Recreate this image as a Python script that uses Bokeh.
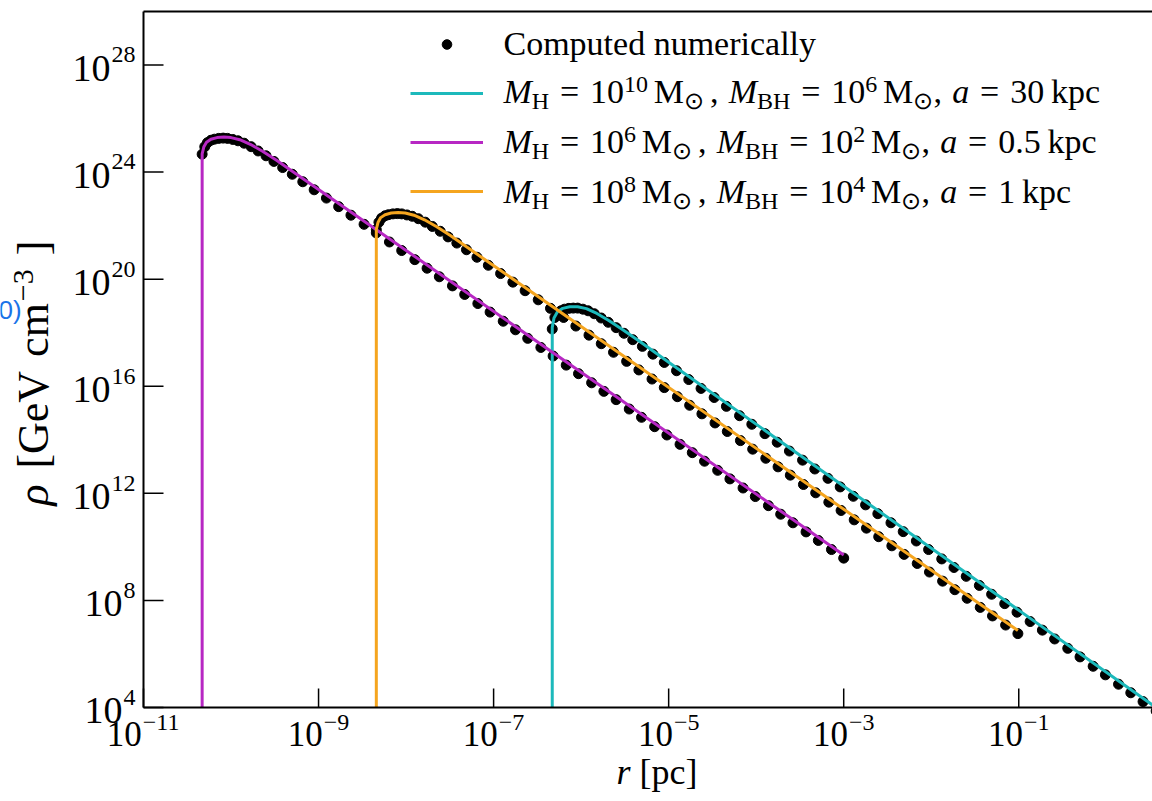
import math
from bokeh.plotting import figure
from bokeh.models import Label, Legend, LegendItem, Range1d
from bokeh.embed import file_html
from bokeh.resources import INLINE

# ---------------- data: log10(r / pc), log10(rho / GeV cm^-3) -------------
# solid curves
cyan_line_logr = [-6.33, -6.33, -6.31, -6.27, -6.21, -6.13, -6.04, -5.94, -5.82, -5.68, -5.52, -5.35, -5.15, -5.00, 1.00]
cyan_line_logrho = [4.0, 18.20, 18.55, 18.78, 18.91, 18.97, 18.97, 18.90, 18.72, 18.45, 18.10, 17.72, 17.25, 16.90, 3.00]
mag_line_logr = [-10.33, -10.33, -10.31, -10.28, -10.23, -10.16, -10.08, -10.00, -9.90, -9.78, -9.64, -9.48, -9.30, -9.00, -3.00]
mag_line_logrho = [4.0, 24.68, 24.95, 25.12, 25.23, 25.29, 25.31, 25.29, 25.21, 25.04, 24.78, 24.44, 24.03, 23.35, 9.70]
ora_line_logr = [-8.34, -8.34, -8.32, -8.29, -8.24, -8.17, -8.09, -8.01, -7.91, -7.79, -7.65, -7.49, -7.31, -7.01, -1.01]
ora_line_logrho = [4.0, 21.86, 22.13, 22.30, 22.41, 22.47, 22.49, 22.47, 22.39, 22.22, 21.96, 21.62, 21.21, 20.53, 6.88]

# numerically computed points
mag_dot_logr = [-10.33, -10.30, -10.27, -10.23, -10.19, -10.14, -10.09, -10.04, -9.98, -9.92,
                -9.85, -9.77, -9.69, -9.60, -9.51, -9.41, -9.30, -9.18, -9.05, -8.91,
                -8.77, -8.63, -8.48, -8.34, -8.19, -8.05, -7.90, -7.76, -7.62, -7.47,
                -7.33, -7.18, -7.04, -6.89, -6.75, -6.61, -6.46, -6.32, -6.17, -6.03,
                -5.88, -5.74, -5.60, -5.45, -5.31, -5.16, -5.02, -4.87, -4.73, -4.59,
                -4.44, -4.30, -4.15, -4.01, -3.86, -3.72, -3.58, -3.43, -3.29, -3.14, -3.00]
mag_dot_logrho = [24.67, 24.95, 25.10, 25.19, 25.23, 25.26, 25.27, 25.26, 25.22, 25.17,
                  25.08, 24.95, 24.79, 24.61, 24.40, 24.17, 23.92, 23.64, 23.34, 23.03,
                  22.71, 22.39, 22.05, 21.73, 21.39, 21.07, 20.73, 20.41, 20.09, 19.75,
                  19.43, 19.09, 18.77, 18.43, 18.11, 17.79, 17.45, 17.13, 16.79, 16.47,
                  16.13, 15.81, 15.50, 15.15, 14.84, 14.49, 14.18, 13.83, 13.52, 13.20,
                  12.86, 12.54, 12.20, 11.88, 11.54, 11.22, 10.90, 10.56, 10.24, 9.90, 9.58]
ora_dot_logr = [-8.34, -8.31, -8.28, -8.24, -8.20, -8.15, -8.10, -8.05, -7.99, -7.93,
                -7.86, -7.78, -7.70, -7.61, -7.52, -7.42, -7.31, -7.19, -7.06, -6.92,
                -6.78, -6.64, -6.49, -6.35, -6.20, -6.06, -5.91, -5.77, -5.63, -5.48,
                -5.34, -5.19, -5.05, -4.90, -4.76, -4.62, -4.47, -4.33, -4.18, -4.04,
                -3.89, -3.75, -3.61, -3.46, -3.32, -3.17, -3.03, -2.88, -2.74, -2.60,
                -2.45, -2.31, -2.16, -2.02, -1.87, -1.73, -1.59, -1.44, -1.30, -1.15, -1.01]
ora_dot_logrho = [21.85, 22.13, 22.28, 22.37, 22.41, 22.44, 22.45, 22.44, 22.40, 22.35,
                  22.26, 22.13, 21.97, 21.79, 21.58, 21.35, 21.10, 20.82, 20.52, 20.21,
                  19.89, 19.57, 19.23, 18.91, 18.57, 18.25, 17.91, 17.59, 17.27, 16.93,
                  16.61, 16.27, 15.95, 15.61, 15.29, 14.97, 14.63, 14.31, 13.97, 13.65,
                  13.31, 12.99, 12.68, 12.33, 12.02, 11.67, 11.36, 11.01, 10.70, 10.38,
                  10.04, 9.72, 9.38, 9.06, 8.72, 8.40, 8.08, 7.74, 7.42, 7.08, 6.76]
cyan_dot_logr = [-6.33, -6.30, -6.27, -6.23, -6.19, -6.14, -6.09, -6.04, -5.98, -5.92,
                 -5.85, -5.77, -5.69, -5.60, -5.51, -5.41, -5.30, -5.18, -5.05, -4.91,
                 -4.77, -4.63, -4.48, -4.34, -4.19, -4.05, -3.90, -3.76, -3.62, -3.47,
                 -3.33, -3.18, -3.04, -2.89, -2.75, -2.61, -2.46, -2.32, -2.17, -2.03,
                 -1.88, -1.74, -1.60, -1.45, -1.31, -1.16, -1.02, -0.87, -0.73, -0.59,
                 -0.44, -0.30, -0.15, -0.01, 0.14, 0.28, 0.42, 0.57, 0.71, 0.86, 1.00]
cyan_dot_logrho = [18.14, 18.57, 18.73, 18.82, 18.88, 18.91, 18.92, 18.92, 18.88, 18.82,
                   18.71, 18.55, 18.39, 18.19, 17.98, 17.74, 17.49, 17.20, 16.89, 16.58,
                   16.25, 15.92, 15.58, 15.25, 14.90, 14.58, 14.23, 13.91, 13.58, 13.24,
                   12.91, 12.56, 12.24, 11.89, 11.57, 11.24, 10.90, 10.57, 10.22, 9.90,
                   9.55, 9.23, 8.90, 8.56, 8.23, 7.88, 7.56, 7.21, 6.89, 6.56,
                   6.21, 5.89, 5.54, 5.22, 4.87, 4.55, 4.22, 3.87, 3.55, 3.20, 2.88]

x_tick_exp = [-11, -9, -7, -5, -3, -1]
y_tick_exp = [4, 8, 12, 16, 20, 24, 28]
x_axis_exp = (-11, 0.528)   # plotted decades of r
y_axis_exp = (4, 30)        # plotted decades of rho

G = (0.32, "gap")
legend_rows = [
    [("M", "it"), ("H", "sub"), G, ("=", "n"), G, ("10", "n"), ("10", "sup"), (.17, "gap"), ("M", "n"), ("⊙", "sub"),
     (.17, "gap"), (",", "n"), (.3, "gap"), ("M", "it"), ("BH", "sub"), G, ("=", "n"), G, ("10", "n"), ("6", "sup"),
     (.17, "gap"), ("M", "n"), ("⊙", "sub"), (",", "n"), (.3, "gap"), ("a", "it"), G, ("=", "n"), G, ("30", "n"),
     (.2, "gap"), ("kpc", "n")],
    [("M", "it"), ("H", "sub"), G, ("=", "n"), G, ("10", "n"), ("6", "sup"), (.17, "gap"), ("M", "n"), ("⊙", "sub"),
     (.17, "gap"), (",", "n"), (.3, "gap"), ("M", "it"), ("BH", "sub"), G, ("=", "n"), G, ("10", "n"), ("2", "sup"),
     (.17, "gap"), ("M", "n"), ("⊙", "sub"), (",", "n"), (.3, "gap"), ("a", "it"), G, ("=", "n"), G, ("0.5", "n"),
     (.2, "gap"), ("kpc", "n")],
    [("M", "it"), ("H", "sub"), G, ("=", "n"), G, ("10", "n"), ("8", "sup"), (.17, "gap"), ("M", "n"), ("⊙", "sub"),
     (.17, "gap"), (",", "n"), (.3, "gap"), ("M", "it"), ("BH", "sub"), G, ("=", "n"), G, ("10", "n"), ("4", "sup"),
     (.17, "gap"), ("M", "n"), ("⊙", "sub"), (",", "n"), (.3, "gap"), ("a", "it"), G, ("=", "n"), G, ("1", "n"),
     (.2, "gap"), ("kpc", "n")],
]

CYAN, MAG, ORA = "#1cb9bb", "#b728c3", "#f5a51f"
FONT = "Liberation Serif"

# ---------------- geometry (px) of the plotting box inside the 1152x801 canvas ----------------
W, H = 1152, 801
FL, FT, FR, FB = 143.0, 11.0, 1152.0, 707.0
pxx = (FR - FL) / (x_axis_exp[1] - x_axis_exp[0])
pxy = (FB - FT) / (y_axis_exp[1] - y_axis_exp[0])
xr = (x_axis_exp[0] - FL / pxx, x_axis_exp[1] + (W - FR) / pxx)
yr = (y_axis_exp[0] - (H - FB) / pxy, y_axis_exp[1] + FT / pxy)

p = figure(width=W, height=H, x_axis_type="log", y_axis_type="log",
           x_range=Range1d(10 ** xr[0], 10 ** xr[1]), y_range=Range1d(10 ** yr[0], 10 ** yr[1]),
           output_backend="svg", toolbar_location=None, min_border=0)
p.axis.visible = False
p.outline_line_color = None
p.xgrid.visible = False
p.ygrid.visible = False
p.background_fill_color = "white"
p.border_fill_color = "white"

tenp = lambda a: [10.0 ** v for v in a]

d_mag = p.scatter(tenp(mag_dot_logr), tenp(mag_dot_logrho), size=10, color="black")
p.scatter(tenp(ora_dot_logr), tenp(ora_dot_logrho), size=10, color="black")
p.scatter(tenp(cyan_dot_logr), tenp(cyan_dot_logrho), size=10, color="black")
l_cyan = p.line(tenp(cyan_line_logr), tenp(cyan_line_logrho), line_width=3, color=CYAN)
l_mag = p.line(tenp(mag_line_logr), tenp(mag_line_logrho), line_width=3, color=MAG)
l_ora = p.line(tenp(ora_line_logr), tenp(ora_line_logrho), line_width=3, color=ORA)

# axis box (left, bottom, top) and inward ticks
xa0, xa1 = 10.0 ** x_axis_exp[0], 10.0 ** (x_axis_exp[1] + 0.2)
ya0, ya1 = 10.0 ** y_axis_exp[0], 10.0 ** y_axis_exp[1]
p.segment(x0=[xa0, xa0, xa0], y0=[ya0, ya0, ya1], x1=[xa0, xa1, xa1], y1=[ya1, ya0, ya1],
          line_color="black", line_width=2)
p.segment(x0=[10.0 ** e for e in x_tick_exp], y0=[ya0] * len(x_tick_exp),
          x1=[10.0 ** e for e in x_tick_exp], y1=[10.0 ** (y_axis_exp[0] + 19 / pxy)] * len(x_tick_exp),
          line_color="black", line_width=1.5)
p.segment(x0=[xa0] * len(y_tick_exp), y0=[10.0 ** e for e in y_tick_exp],
          x1=[10.0 ** (x_axis_exp[0] + 20 / pxx)] * len(y_tick_exp), y1=[10.0 ** e for e in y_tick_exp],
          line_color="black", line_width=1.5)

# text helpers (anchored to the plotting box's top-left corner, offset in px)
X0, Y1 = xa0, ya1
TW = {" ": .25, ",": .25, "=": .564, "M": .889, "H": .722, "B": .667, "a": .444, "k": .5, "p": .5,
      "c": .444, "⊙": .84, "−": .564, ".": .25, "[": .333, "]": .333, "G": .722, "e": .444, "V": .722,
      "m": .778, "r": .333, "ρ": .52}
TWI = {"M": .833, "a": .5, "r": .389, "ρ": .52}
BASE_FIX = 0.34   # observed drop of the rendered baseline, in em


def text_w(s, size, italic=False):
    t = TWI if italic else TW
    return sum(t.get(ch, TW.get(ch, .5)) for ch in s) * size


def put(text, sx, sy, size, style="normal", align="left", color="black", angle=0.0, font=FONT):
    if angle == 0.0:
        sy = sy - BASE_FIX * size
    else:
        sx = sx - BASE_FIX * size
    p.add_layout(Label(x=X0, y=Y1, x_offset=sx - FL, y_offset=FT - sy, text=text, text_font=font,
                       text_font_size=f"{size}px", text_font_style=style, text_align=align,
                       text_baseline="alphabetic", text_color=color, angle=angle))


def rich(segs, sx, sy, main=34, script=24, sub=6, sup=11):
    x = sx
    for s, kind in segs:
        if kind == "gap":
            x += s * main
            continue
        if kind in ("sub", "sup"):
            size, dy, it = script, (-sub if kind == "sub" else sup), False
        else:
            size, dy, it = main, 0, kind == "it"
        put(s, x, sy - dy, size, "italic" if it else "normal")
        x += text_w(s, size, it)


# y tick labels
for e in y_tick_exp:
    sy = FT + (y_axis_exp[1] - e) * pxy
    es = str(e)
    put(es, FL - 8, sy - 2, 24, align="right")
    put("10", FL - 9 - text_w(es, 24), sy + 16, 38, align="right")

# x tick labels
for e in x_tick_exp:
    sx = FL + (e - x_axis_exp[0]) * pxx
    es = "−" + str(-e)
    total = 35 + 1 + text_w(es, 24)
    put("10", sx - total / 2, 745, 35)
    put(es, sx - total / 2 + 36, 730, 24)

# axis titles
put("r", 616, 784, 36, "italic")
put("[pc]", 616 + text_w("r", 36, True) + 9, 784, 36)
ang = math.pi / 2
yy = 505
for s, size, st, shift, gap in [("ρ", 44, "italic", 0, 14), ("[GeV", 44, "normal", 0, 14),
                                 ("cm", 44, "normal", 0, 2), ("−3", 30, "normal", 15, 14), ("]", 44, "normal", 0, 0)]:
    put(s, 48 - shift, yy, size, st, angle=ang)
    yy -= text_w(s, size, st == "italic") + gap

# stray blue fragment at the left edge
put("0)", -2, 318, 26, color="#1a73e8", font="Liberation Sans")

# legend: sample glyphs via Bokeh legend, labels drawn as rich text
legend = Legend(items=[LegendItem(label=" ", renderers=[d_mag]),
                       LegendItem(label=" ", renderers=[l_cyan]),
                       LegendItem(label=" ", renderers=[l_mag]),
                       LegendItem(label=" ", renderers=[l_ora])],
                location=(410, 598), glyph_width=73, glyph_height=24, label_height=24, label_width=0,
                label_standoff=0, spacing=25, padding=0, margin=0, border_line_color=None,
                background_fill_alpha=0, label_text_font_size="1px")
p.add_layout(legend)
put("Computed numerically", 503, 55, 34)
for row, base in zip(legend_rows, (103, 153, 203)):
    rich(row, 503, base)

open("out.html", "w").write(file_html(p, INLINE))
